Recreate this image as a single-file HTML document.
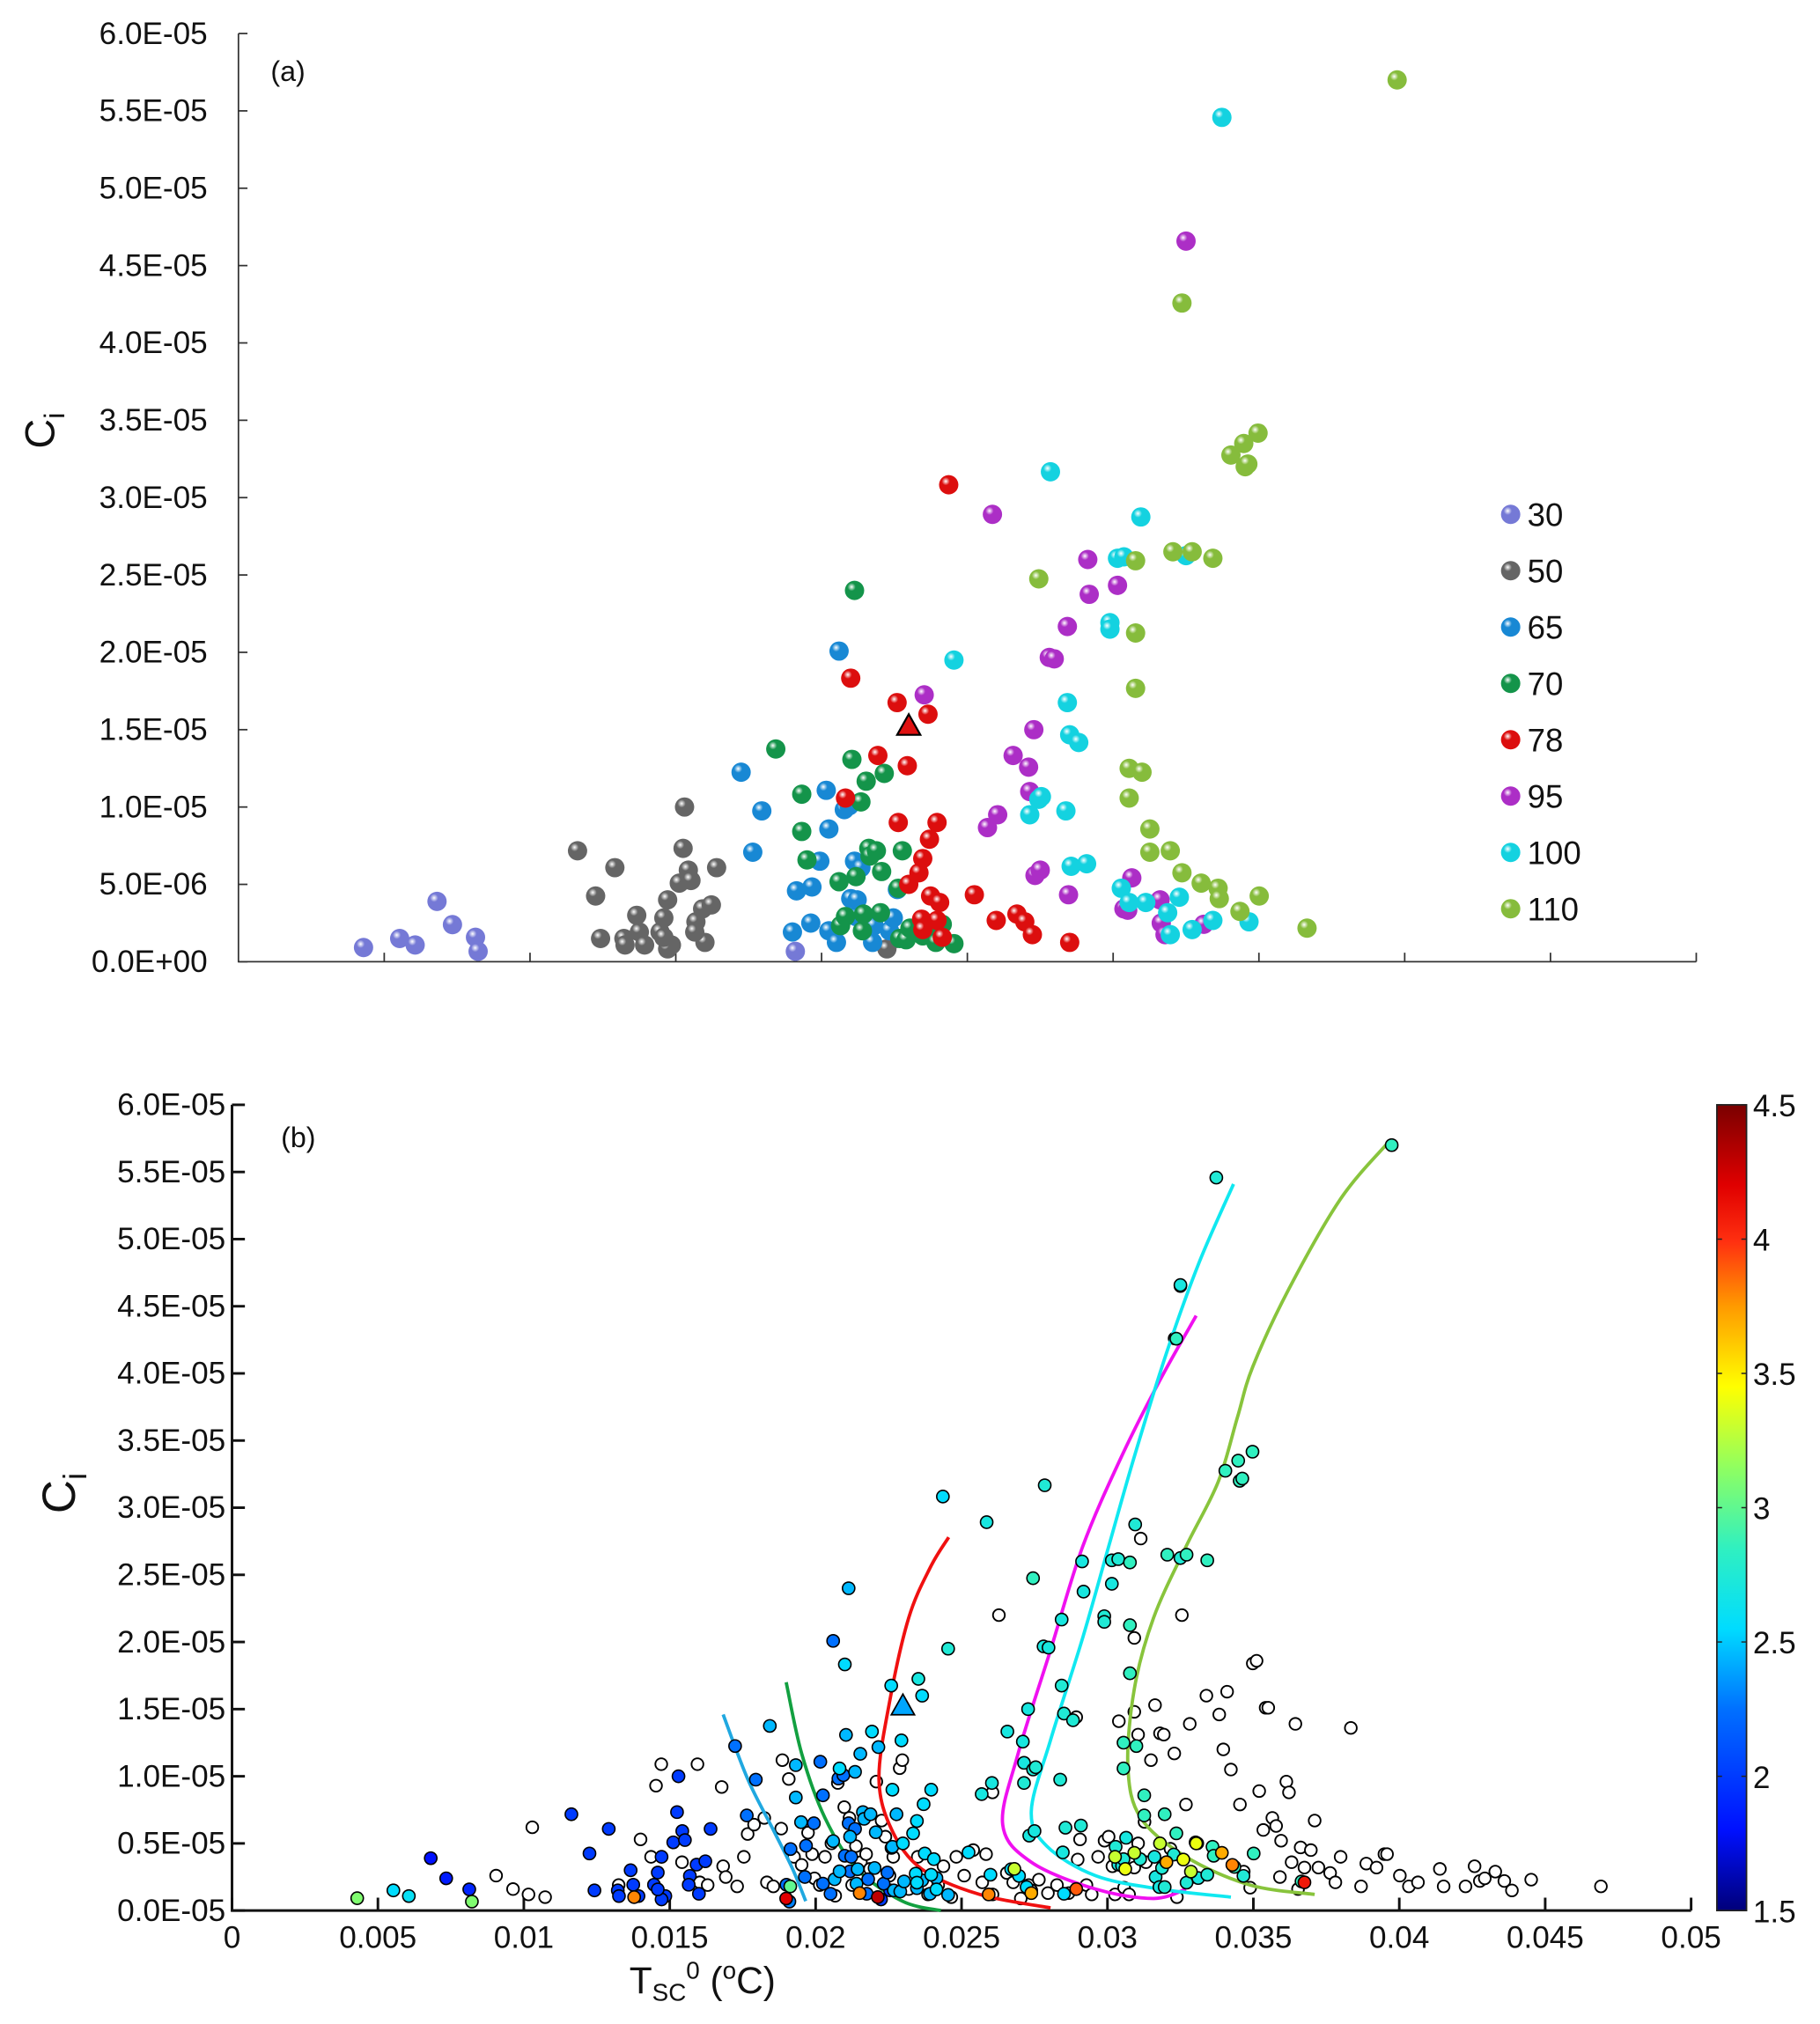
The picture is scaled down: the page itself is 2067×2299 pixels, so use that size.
<!DOCTYPE html>
<html><head><meta charset="utf-8"><style>
html,body{margin:0;padding:0;background:#fff}
svg{display:block}
text{font-family:"Liberation Sans",Arial,sans-serif;fill:#111}
</style></head><body>
<svg id="chart" width="2067" height="2299" viewBox="0 0 1412 1570" preserveAspectRatio="none" xmlns="http://www.w3.org/2000/svg">
<defs>
<linearGradient id="cbar" x1="0" y1="1" x2="0" y2="0">
<stop offset="0" stop-color="#00007a"/><stop offset="0.1" stop-color="#0010ff"/>
<stop offset="0.25" stop-color="#0070ff"/><stop offset="0.35" stop-color="#00dcff"/>
<stop offset="0.45" stop-color="#30f0c0"/><stop offset="0.55" stop-color="#90ff60"/>
<stop offset="0.65" stop-color="#ffff00"/><stop offset="0.75" stop-color="#ff9a00"/>
<stop offset="0.83" stop-color="#ff3010"/><stop offset="0.9" stop-color="#e00000"/>
<stop offset="1" stop-color="#7a0000"/>
</linearGradient>
</defs>
<g id="pa"></g>
<g id="pb"></g>
</svg>
<script>
// ---------- DATA (x in 1e-3 °C, y in 1e-6) ----------
const groupNames = ["30","50","65","70","78","95","100","110"];
const g30 = [[4.29,0.92],[5.53,1.5],[6.06,1.08],[6.81,3.9],[7.34,2.4],[8.13,1.58],[8.22,0.67],[19.1,0.67]];
const g50 = [[11.63,7.17],[12.25,4.25],[12.91,6.08],[12.42,1.5],[13.22,1.5],[13.66,3.0],[13.75,1.92],[13.26,1.08],[13.93,1.08],[14.59,2.83],[14.72,4.0],[14.46,1.92],[14.85,1.08],[15.12,5.08],[15.25,7.33],[15.3,10.0],[15.43,5.92],[15.52,5.25],[15.69,2.58],[15.92,3.42],[16.0,1.25],[15.65,1.92],[16.22,3.67],[16.4,6.08],[14.72,0.83],[14.59,1.58],[22.24,0.83],[22.55,1.5]];
const g65 = [[17.24,12.25],[17.95,9.75],[17.64,7.08],[19.14,4.58],[19.0,1.92],[19.67,4.83],[19.63,2.5],[19.94,6.5],[20.16,11.08],[20.25,8.58],[20.25,2.0],[20.51,1.25],[20.6,20.08],[20.78,9.83],[20.95,10.08],[21.0,4.08],[21.13,6.5],[21.22,4.0],[21.18,2.92],[21.35,6.08],[21.75,1.25],[21.8,2.33],[22.33,2.0],[22.46,2.83],[22.6,4.67]];
const g70 = [[18.43,13.75],[19.32,10.83],[19.32,8.42],[19.5,6.58],[20.6,5.17],[20.65,2.33],[20.82,2.92],[21.04,13.08],[21.13,24.0],[21.18,5.5],[21.35,10.33],[21.44,3.08],[21.53,11.67],[21.62,7.33],[21.66,6.83],[21.88,7.17],[22.06,5.83],[22.15,12.17],[22.63,4.75],[22.68,1.5],[22.77,7.17],[22.9,1.42],[23.47,1.67],[23.65,2.25],[23.92,1.25],[24.14,2.42],[24.54,1.17],[22.02,3.17],[21.4,2.0],[23.03,2.17]];
const g78 = [[21.0,18.33],[20.82,10.58],[21.93,13.33],[22.59,16.75],[22.94,12.67],[22.63,9.0],[23.65,16.0],[23.96,9.0],[23.7,7.92],[23.47,6.67],[23.34,5.75],[22.99,5.0],[23.74,4.25],[23.96,2.67],[24.14,1.58],[23.43,2.75],[24.05,3.83],[24.36,30.83],[25.24,4.33],[25.99,2.67],[26.7,3.08],[26.97,2.58],[27.23,1.75],[28.51,1.25],[23.47,2.08]];
const g95 = [[23.52,17.25],[25.86,28.92],[26.04,9.5],[25.69,8.67],[26.57,13.33],[27.1,12.58],[27.14,11.0],[27.28,15.0],[27.32,5.58],[27.5,5.92],[27.81,19.67],[27.98,19.58],[28.43,21.67],[28.47,4.33],[29.13,26.0],[29.18,23.75],[30.15,24.33],[30.37,3.42],[30.5,3.33],[30.64,5.42],[31.61,4.0],[31.65,2.5],[32.5,46.58],[33.11,2.42],[31.78,1.75]];
const g100 = [[24.54,19.5],[27.14,9.5],[27.45,10.5],[27.54,10.67],[27.85,31.67],[28.38,9.75],[28.43,16.75],[28.51,14.67],[28.82,14.17],[29.09,6.33],[28.56,6.17],[29.89,21.92],[29.89,21.5],[30.15,26.08],[30.37,26.17],[30.95,28.75],[30.28,4.75],[30.55,3.83],[31.12,3.83],[31.96,1.75],[31.87,3.17],[32.27,4.17],[32.5,26.25],[32.71,2.08],[33.42,2.67],[33.73,54.58],[34.66,2.58]];
const g110 = [[27.45,24.75],[30.77,25.92],[30.77,21.25],[30.77,17.67],[30.55,12.5],[30.99,12.25],[30.55,10.58],[31.26,8.58],[31.26,7.08],[32.05,26.5],[31.96,7.17],[32.36,5.75],[32.71,26.5],[33.02,5.08],[33.42,26.08],[33.6,4.75],[33.64,4.08],[34.04,32.75],[34.35,3.25],[34.48,33.5],[34.53,32.0],[34.62,32.17],[34.97,34.17],[35.01,4.25],[36.65,2.17],[39.74,57.0],[32.36,42.58]];
const groups = [g30,g50,g65,g70,g78,g95,g100,g110];
const groupColors = ["#7579d6","#656565","#1888d4","#14944a","#dc0e0e","#ac2ec6","#14d2e0","#86bc3c"];
const triangle = [22.99,15.25];
// colour-bar values for panel (b)
const cval30 = [3.1,2.55,2.6,1.8,1.85,1.9,3.1,2.3];
const groupCval = [0,2.0,2.25,2.45,2.55,2.7,2.75,2.85];
const triCval = 2.4;
const extraPts = [[13.78,1.0],[19.13,1.8],[21.51,1.3],[26.81,3.1],[30.26,4.0],[30.61,3.1],[30.92,4.3],[31.8,5.0],[32.02,3.6],[32.6,3.8],[32.86,2.9],[33.04,5.0],[33.92,4.3],[34.28,3.4],[36.75,2.1],[18.99,0.9],[22.13,1.0],[25.93,1.2],[27.39,1.3],[28.93,1.6]];
const extraCval = [3.8,3.0,3.8,3.3,3.3,3.4,3.3,3.3,3.7,3.4,3.3,3.4,3.7,3.8,4.1,4.2,4.3,3.8,3.7,3.9];
const openPts = [[9.05,2.6],[9.63,1.6],[10.16,1.2],[10.29,6.2],[10.73,1.0],[13.25,1.9],[14.0,5.3],[14.36,4.0],[14.53,9.3],[14.71,10.9],[15.42,3.6],[15.95,10.9],[16.03,2.1],[16.3,1.9],[16.78,9.2],[16.83,3.3],[16.92,2.5],[17.31,1.8],[17.54,4.0],[17.67,5.7],[17.89,6.4],[18.24,6.9],[18.33,2.1],[18.55,1.8],[18.82,6.1],[18.86,11.2],[19.08,9.8],[19.26,4.0],[19.52,3.4],[19.74,5.8],[19.88,4.2],[19.96,2.4],[20.14,1.9],[20.32,4.0],[20.54,5.0],[20.67,1.1],[20.76,9.5],[20.98,7.7],[21.16,6.9],[21.25,1.9],[21.38,4.8],[21.55,3.6],[21.73,4.2],[21.86,3.1],[22.08,9.6],[22.26,6.7],[22.39,5.5],[22.53,2.6],[22.66,4.0],[22.88,10.6],[22.97,11.2],[23.19,1.6],[23.5,4.0],[23.85,1.2],[24.2,1.9],[24.38,3.3],[24.65,1.0],[24.82,4.0],[25.09,2.6],[25.4,4.5],[25.71,2.1],[25.84,4.2],[26.06,1.2],[26.28,22.0],[26.06,8.8],[26.55,2.8],[26.77,2.1],[27.03,0.9],[27.3,1.9],[27.39,1.5],[27.65,2.3],[27.96,1.3],[28.27,1.9],[28.67,1.3],[28.93,14.4],[28.98,3.8],[29.06,5.3],[29.28,1.9],[29.46,1.2],[29.68,4.0],[29.9,5.2],[30.04,5.5],[30.17,3.3],[30.26,1.2],[30.39,14.1],[30.57,1.7],[30.74,1.2],[30.92,3.2],[31.05,5.0],[31.14,27.7],[30.92,20.3],[30.92,14.8],[31.05,13.1],[31.27,6.6],[31.32,3.6],[31.49,11.2],[31.63,15.3],[31.8,13.2],[31.93,13.1],[32.16,4.6],[32.29,11.7],[32.38,1.0],[32.55,22.0],[32.69,7.9],[32.91,2.5],[33.08,5.0],[33.97,12.0],[34.23,10.5],[34.54,7.9],[34.67,2.9],[34.89,1.7],[34.98,18.4],[35.11,18.6],[35.2,8.9],[35.34,6.0],[35.42,15.1],[35.51,15.1],[35.65,6.9],[35.78,6.3],[35.91,2.5],[36.13,9.6],[36.22,8.8],[36.31,3.6],[36.44,13.9],[36.53,1.6],[36.62,4.7],[36.75,3.2],[36.97,4.5],[37.1,6.7],[37.23,3.2],[37.63,2.8],[37.81,2.1],[37.99,4.0],[38.34,13.6],[38.69,1.8],[38.87,3.5],[39.22,3.2],[39.49,4.2],[39.58,4.2],[40.02,2.6],[40.33,1.8],[40.64,2.1],[41.39,3.1],[41.52,1.8],[42.27,1.8],[42.58,3.3],[42.76,2.2],[42.93,2.4],[43.29,2.9],[43.6,2.2],[43.86,1.5],[44.52,2.3],[46.91,1.8],[32.82,13.9],[33.39,16.0],[33.83,14.6],[34.1,16.3],[35.95,5.2],[32.5,46.5],[32.3,42.6]];
const curveBlue = [[16.83,14.6],[17.67,9.8],[18.55,6.0],[19.21,3.1],[19.66,0.7]];
const curveGreen = [[18.99,17.0],[19.52,11.7],[20.32,6.9],[21.42,3.1],[22.97,0.7],[24.29,0.0]];
const curveRed = [[24.56,27.8],[23.94,25.6],[23.19,21.8],[22.53,15.5],[22.17,9.8],[22.61,6.0],[23.63,3.1],[25.62,1.2],[28.05,0.2]];
const curveMagenta = [[33.04,44.3],[31.8,39.5],[30.48,33.8],[29.15,27.1],[28.05,19.4],[26.94,11.7],[26.41,6.4],[27.39,3.6],[29.59,1.6],[31.58,0.9],[32.69,1.6]];
const curveCyan = [[34.32,54.1],[33.13,48.2],[32.02,41.5],[30.92,33.8],[30.04,27.1],[29.15,20.3],[28.05,12.7],[27.39,7.4],[27.92,4.8],[29.59,2.6],[31.8,1.6],[34.23,1.0]];
const curveOlive = [[39.58,57.1],[37.99,53.0],[36.22,46.3],[34.98,40.5],[34.45,36.7],[33.79,31.9],[32.69,27.1],[31.58,21.8],[30.92,16.5],[30.7,10.7],[31.14,6.9],[32.69,4.0],[34.89,1.9],[37.1,1.2]];
const curves = [curveBlue,curveGreen,curveRed,curveMagenta,curveCyan,curveOlive];
const curveColors = ["#20a8e0","#12a040","#f01010","#f010f0","#10e8f0","#88c43c"];
const yTickA = ["0.0E+00","5.0E-06","1.0E-05","1.5E-05","2.0E-05","2.5E-05","3.0E-05","3.5E-05","4.0E-05","4.5E-05","5.0E-05","5.5E-05","6.0E-05"];
const yTickB = ["0.0E-05","0.5E-05","1.0E-05","1.5E-05","2.0E-05","2.5E-05","3.0E-05","3.5E-05","4.0E-05","4.5E-05","5.0E-05","5.5E-05","6.0E-05"];
const xTickLabels = ["0","0.005","0.01","0.015","0.02","0.025","0.03","0.035","0.04","0.045","0.05"];
const cbTicks = ["1.5","2","2.5","3","3.5","4","4.5"];

// ---------- AXES ----------
const NS="http://www.w3.org/2000/svg";
function mk(tag,attrs,parent){const e=document.createElementNS(NS,tag);for(const k in attrs)e.setAttribute(k,attrs[k]);parent.appendChild(e);return e;}
const xa = v => 185 + v*22.62;
const ya = v => 746 - v*12;
const xb = v => 180 + v*22.64;
const yb = v => 1482 - v*10.4167;
const cb = v => 1482 - (v-1.5)/3*625;
function cmap(v){
  const st=[[1.5,[0,0,122]],[1.8,[0,16,255]],[2.25,[0,112,255]],[2.55,[0,220,255]],[2.85,[48,240,192]],[3.15,[144,255,96]],[3.45,[255,255,0]],[3.75,[255,154,0]],[4.0,[255,48,16]],[4.2,[224,0,0]],[4.5,[122,0,0]]];
  for(let i=1;i<st.length;i++){if(v<=st[i][0]){const a=st[i-1],b=st[i],t=(v-a[0])/(b[0]-a[0]);return "rgb("+a[1].map((c,j)=>Math.round(c+(b[1][j]-c)*t)).join(",")+")";}}
  return "rgb(122,0,0)";
}

// ---------- PANEL A ----------
const pa=document.getElementById('pa');
const defs=document.querySelector('defs');
groupColors.forEach((c,i)=>{
  const g=mk('radialGradient',{id:'sph'+i,cx:'0.35',cy:'0.32',r:'0.75'},defs);
  mk('stop',{offset:'0','stop-color':'#ffffff'},g);
  mk('stop',{offset:'0.28','stop-color':c},g);
  mk('stop',{offset:'1','stop-color':c},g);
});
const axA=mk('path',{d:'M185 26 V746 H1316',fill:'none',stroke:'#333','stroke-width':1.2},pa);


yTickA.forEach((t,i)=>{
  const y=ya(i*5);
  const tk=mk('line',{x1:185,x2:192,y1:y,y2:y,stroke:'#333','stroke-width':1.2},pa);
  
  
  const tx=mk('text',{x:161,y:y+8,'text-anchor':'end','font-size':24},pa);
  tx.textContent=t;
  
  
});
xTickLabels.forEach((t,i)=>{
  if(i===0)return;
  const x=xa(i*5);
  const tk=mk('line',{x1:x,x2:x,y1:746,y2:739,stroke:'#333','stroke-width':1.2},pa);
  
  
});
let lbl=mk('text',{x:0,y:0,'font-size':32,transform:'translate(42,348) rotate(-90)'},pa);
lbl.innerHTML='C<tspan font-size="22" dy="8">i</tspan>';


lbl=mk('text',{x:210,y:63,'font-size':22,'font-family':'Liberation Serif'},pa);
lbl.textContent='(a)';


groups.forEach((g,gi)=>{
  g.forEach(p=>{
    const c=mk('circle',{cx:xa(p[0]),cy:ya(p[1]),r:7.5,fill:'url(#sph'+gi+')'},pa);
    
    
  });
});
{const x=xa(triangle[0]),y=ya(triangle[1]);
 const t=mk('path',{d:`M${x} ${y-9} L${x+9} ${y+7} L${x-9} ${y+7} Z`,fill:'#e01212',stroke:'#000','stroke-width':1.5},pa);
 
 }
groupNames.forEach((n,i)=>{
  const y=399+i*43.7;
  const c=mk('circle',{cx:1172,cy:y,r:7.5,fill:'url(#sph'+i+')'},pa);
  
  
  const t=mk('text',{x:1185,y:y+9,'font-size':25},pa);
  t.textContent=n;
  
  
});

// ---------- PANEL B ----------
const pb=document.getElementById('pb');
const axB=mk('path',{d:'M180 857 V1482 H1312',fill:'none',stroke:'#111','stroke-width':2},pb);


yTickB.forEach((t,i)=>{
  const y=yb(i*5);
  const tk=mk('line',{x1:180,x2:190,y1:y,y2:y,stroke:'#111','stroke-width':2},pb);
  
  
  const tx=mk('text',{x:175,y:y+8,'text-anchor':'end','font-size':24},pb);
  tx.textContent=t;
  
  
});
xTickLabels.forEach((t,i)=>{
  const x=xb(i*5);
  const tk=mk('line',{x1:x,x2:x,y1:1482,y2:1472,stroke:'#111','stroke-width':2},pb);
  
  
  const tx=mk('text',{x:x,y:1511,'text-anchor':'middle','font-size':24},pb);
  tx.textContent=t;
  
  
});
lbl=mk('text',{x:0,y:0,'font-size':36,transform:'translate(58,1174) rotate(-90)'},pb);
lbl.innerHTML='C<tspan font-size="25" dy="9">i</tspan>';


lbl=mk('text',{x:545,y:1546,'text-anchor':'middle','font-size':29},pb);
lbl.innerHTML='T<tspan font-size="19" dy="6">SC</tspan><tspan font-size="19" dy="-17">0</tspan><tspan dy="11"> (</tspan><tspan font-size="19" dy="-11">o</tspan><tspan dy="11">C)</tspan>';


lbl=mk('text',{x:218,y:890,'font-size':22,'font-family':'Liberation Serif'},pb);
lbl.textContent='(b)';


openPts.forEach(p=>{
  const c=mk('circle',{cx:xb(p[0]),cy:yb(p[1]),r:4.6,fill:'#fff',stroke:'#000','stroke-width':1.3},pb);
  
  
});
curves.forEach((cv,i)=>{
  const pts=cv.map(p=>[xb(p[0]),yb(p[1])]);
  let d='M'+pts[0][0]+' '+pts[0][1];
  for(let k=1;k<pts.length;k++){
    const p0=pts[k-2]||pts[k-1],p1=pts[k-1],p2=pts[k],p3=pts[k+1]||pts[k];
    const c1=[p1[0]+(p2[0]-p0[0])/6,p1[1]+(p2[1]-p0[1])/6],c2=[p2[0]-(p3[0]-p1[0])/6,p2[1]-(p3[1]-p1[1])/6];
    d+=` C${c1[0]} ${c1[1]} ${c2[0]} ${c2[1]} ${p2[0]} ${p2[1]}`;
  }
  const pth=mk('path',{d:d,fill:'none',stroke:curveColors[i],'stroke-width':2.6},pb);
  
  
});
function filled(p,v){
  const c=mk('circle',{cx:xb(p[0]),cy:yb(p[1]),r:4.8,fill:cmap(v),stroke:'#000','stroke-width':1.1},pb);
  
  
}
groups.forEach((g,gi)=>g.forEach((p,k)=>filled(p, gi===0?cval30[k]:groupCval[gi])));
extraPts.forEach((p,k)=>filled(p,extraCval[k]));
{const x=xb(triangle[0]),y=yb(triangle[1]);
 const t=mk('path',{d:`M${x} ${y-9} L${x+9} ${y+7} L${x-9} ${y+7} Z`,fill:cmap(triCval),stroke:'#000','stroke-width':1.2},pb);
 
 }
const cbr=mk('rect',{x:1332,y:857,width:23,height:625,fill:'url(#cbar)',stroke:'#222','stroke-width':1.2},pb);


cbTicks.forEach(t=>{
  const y=cb(parseFloat(t));
  const l=mk('path',{d:`M1332 ${y} h4 M1355 ${y} h-4`,stroke:'#222','stroke-width':1},pb);
  
  
  const tx=mk('text',{x:1360,y:y+9,'font-size':24},pb);
  tx.textContent=t;
  
  
});
</script>
</body></html>
